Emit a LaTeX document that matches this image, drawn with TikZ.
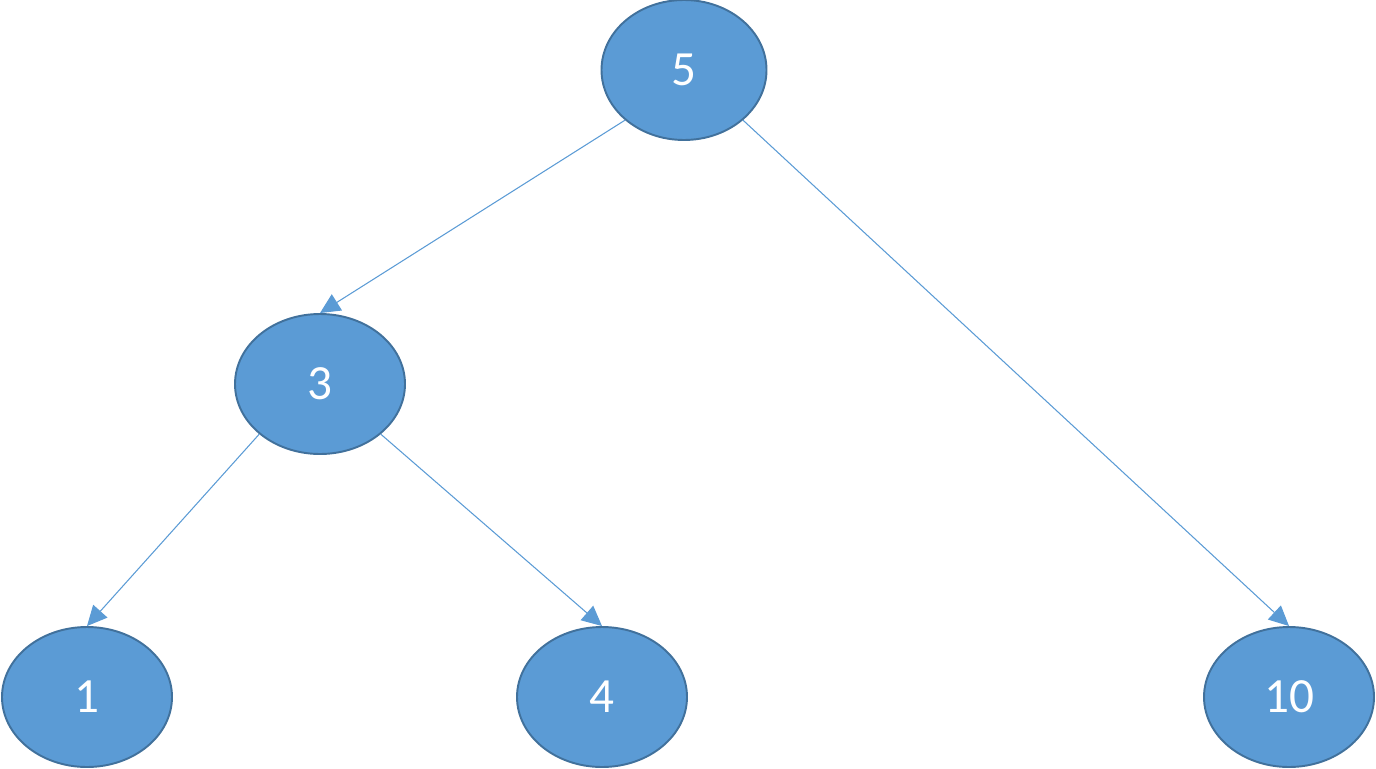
\documentclass[tikz,border=0pt]{standalone}
\usepackage{fontspec}
\setmainfont{Carlito}
\usetikzlibrary{arrows.meta,shapes.geometric}
\definecolor{nodeblue}{HTML}{5B9BD5}
\definecolor{edgeblue}{HTML}{41719C}

\begin{document}
\begin{tikzpicture}[
  treenode/.style={ellipse,draw=edgeblue,line width=1.1pt,fill=nodeblue,minimum width=3.4cm,minimum height=2.8cm,inner sep=0pt,text=white,font=\fontsize{28}{32}\selectfont},
  arr/.style={-{Triangle[length=4mm,width=3.8mm]},line width=0.6pt,draw=nodeblue}
]
\useasboundingbox (0,0) rectangle (27.52,-15.36);
\node[treenode,minimum width=3.3cm] (n5) at (13.68,-1.4) {5};
\node[treenode] (n3) at (6.4,-7.68) {3};
\node[treenode] (n1) at (1.74,-13.94) {1};
\node[treenode] (n4) at (12.04,-13.94) {4};
\node[treenode] (n10) at (25.78,-13.94) {10};
\draw[arr] (n5.south west) -- (n3.north);
\draw[arr] (n5.south east) -- (n10.north);
\draw[arr] (n3.south west) -- (n1.north);
\draw[arr] (n3.south east) -- (n4.north);
\end{tikzpicture}
\end{document}
